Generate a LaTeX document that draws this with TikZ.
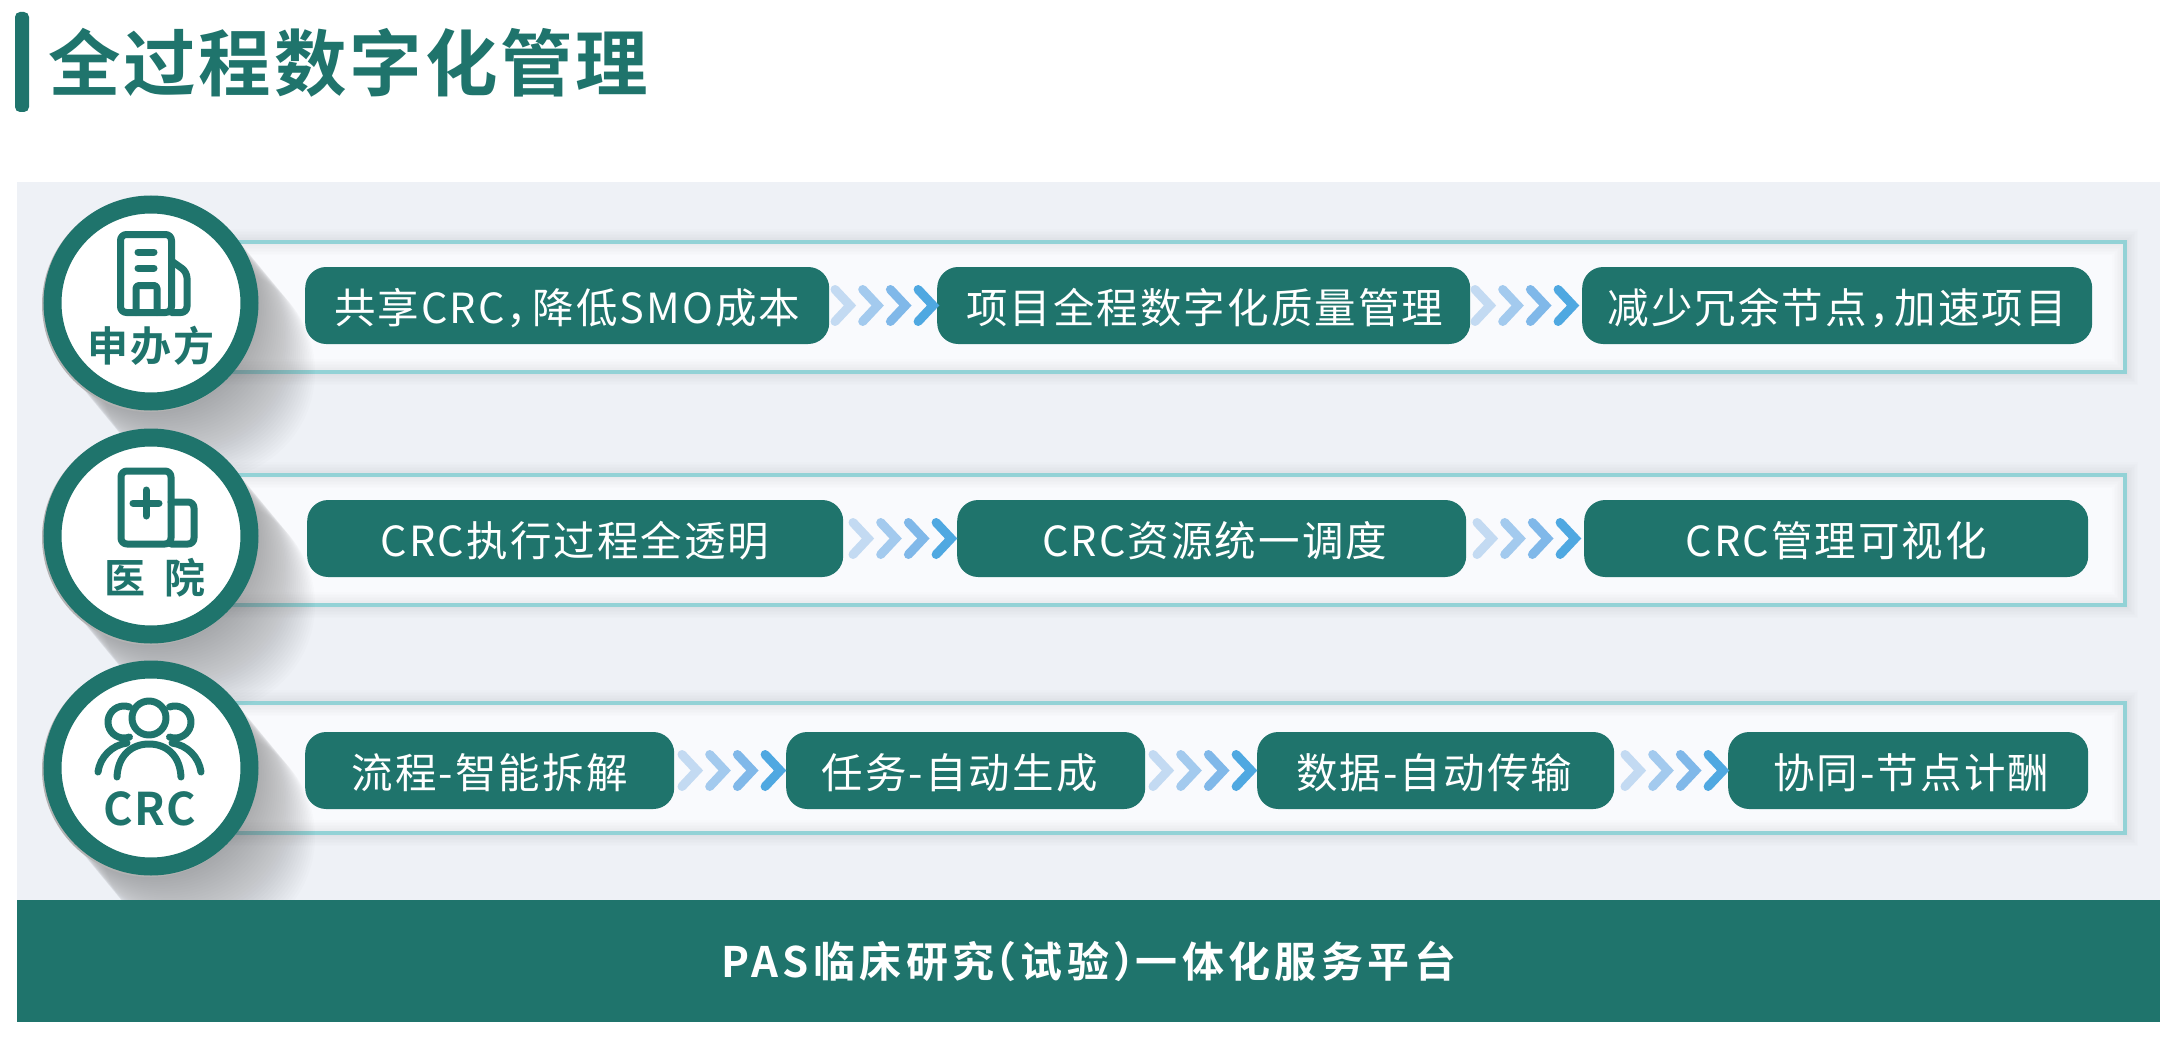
\documentclass[tikz,border=0pt]{standalone}
\usepackage{fontspec}
\setmainfont{Noto Sans CJK SC}
\newfontfamily\pillfont[LetterSpace=5]{Noto Sans CJK SC}
\newfontfamily\boldfont[LetterSpace=6]{Noto Sans CJK SC Bold}
\newfontfamily\barfont[LetterSpace=10.5]{Noto Sans CJK SC Bold}
\newfontfamily\titlefont[LetterSpace=4]{Noto Sans CJK SC Bold}
\newfontfamily\crcfont[LetterSpace=3]{Noto Sans CJK SC Bold}
\definecolor{teal1}{HTML}{1F746C}
\definecolor{bgc}{HTML}{EEF1F6}
\definecolor{frameC}{HTML}{93D2D6}
\definecolor{innerC}{HTML}{F9FAFD}
\definecolor{ch1}{HTML}{C3DAF2}
\definecolor{ch2}{HTML}{A3CAEE}
\definecolor{ch3}{HTML}{80B8E9}
\definecolor{ch4}{HTML}{4FA8E1}
\tikzset{
  pill/.style={fill=teal1,rounded corners=21pt,minimum height=77pt,inner sep=0pt,anchor=west,text=white,font=\pillfont\fontsize{41.5}{48}\selectfont},
  ringc/.style={circle,draw=teal1,fill=white,line width=18pt,minimum size=197pt,inner sep=0pt},
  icon/.style={draw=teal1,line width=7pt,line cap=round,line join=round,rounded corners=6pt},
  iconb/.style={draw=teal1,line width=7pt,line cap=round,line join=round},
  clabel/.style={text=teal1,inner sep=0pt,font=\boldfont\fontsize{41}{48}\selectfont},
  chev/.style={line width=9pt,line cap=round,line join=miter},
}
\newcommand{\rowframe}[2]{%
  \fill[innerC] (150,#1) rectangle (2125,#2);
  \foreach \w in {5,8,11,14,17,20,23,26}
    \draw[black,opacity=0.008,line width=\w pt] (150,#1) rectangle (2125,#2);
  \draw[frameC,line width=4pt] (150,#1) rectangle (2125,#2);
}
\newcommand{\longshadow}[2]{%
  \foreach \i in {1,...,30}
    \fill[black!70,opacity=0.016] ({#1+1.9*\i},{#2+2.3*\i}) circle[radius=107];
  \fill[black!30] (#1-1.5,#2+1.5) circle[radius=107.5];
}
\newcommand{\dn}[2][0pt]{\kern#1\raisebox{-17.5pt}[0pt][0pt]{#2}}
% four chevrons that end at the west side of the pill they lead to
\newcommand{\chevs}[2][-2]{%
  \begin{scope}[shift={(#2.west)},xshift=#1pt]
    \draw[chev,ch1] (-102,-16) -- (-87,0) -- (-102,16);
    \draw[chev,ch2] (-74.3,-16) -- (-59.3,0) -- (-74.3,16);
    \draw[chev,ch3] (-46.6,-16) -- (-31.6,0) -- (-46.6,16);
    \draw[chev,ch4] (-18.9,-16) -- (-3.9,0) -- (-18.9,16);
  \end{scope}
}
\begin{document}
\begin{tikzpicture}[x=1pt,y=-1pt]
\useasboundingbox (0,0) rectangle (2171,1038);
\fill[white] (0,0) rectangle (2171,1038);
% title
\fill[teal1,rounded corners=5pt] (15,12) rectangle (29,112);
\node[anchor=west,inner sep=0pt,text=teal1,font=\titlefont\fontsize{72.5}{80}\selectfont] (title) at (48,63) {全过程数字化管理};
% panel
\fill[bgc] (17,182) rectangle (2160,905);
\rowframe{242}{372}
\rowframe{475}{605}
\rowframe{703}{833}
% circles with long shadows
\longshadow{151}{303}
\node[ringc] (c1) at (151,303) {};
\longshadow{151}{536}
\node[ringc] (c2) at (151,536) {};
\longshadow{151}{768}
\node[ringc] (c3) at (151,768) {};
% bottom bar
\node[fill=teal1,minimum width=2143pt,minimum height=122pt,inner sep=0pt,anchor=north west,text=white,font=\barfont\fontsize{42}{46}\selectfont] (bar) at (17,900) {PAS临床研究\kern-20pt （试验）\kern-20pt 一体化服务平台};
% icon: building
\draw[icon] (138,312.5) -- (120.5,312.5) -- (120.5,234.5) -- (171.5,234.5) -- (171.5,312.5) -- cycle;
\draw[icon] (171.5,312.5) -- (187,312.5) -- (187,272) -- (171.5,261);
\draw[iconb] (138,252) -- (154,252) (138,268) -- (154,268);
\draw[icon,rounded corners=3pt] (136,312.5) -- (136,285.5) -- (157,285.5) -- (157,312.5);
% icon: hospital
\draw[icon] (121,471) rectangle (171,544);
\draw[icon] (171,502) -- (194,502) -- (194,544) -- (171,544);
\draw[iconb] (133,503) -- (159,503) (146,490) -- (146,516);
% icon: people
\draw[iconb] (149,718) circle[radius=17];
\draw[iconb] (124,722) ++(-70:16) arc[start angle=-70,end angle=-290,radius=16];
\draw[iconb] (175,722) ++(-110:16) arc[start angle=-110,end angle=110,radius=16];
\draw[iconb] (117,777) .. controls (118,755) and (132,744) .. (149,744) .. controls (166,744) and (180,755) .. (181,777);
\draw[iconb] (98,772) .. controls (100,757) and (112,745) .. (127,743);
\draw[iconb] (201,772) .. controls (199,757) and (187,745) .. (172,743);
% circle labels
\node[clabel] (l1) at (151,346) {申办方};
\node[clabel] (l2a) at (125,578) {医};
\node[clabel] (l2b) at (185,578) {院};
\node[clabel,font=\crcfont\fontsize{45}{52}\selectfont] (l3) at (150,809) {CRC};
% row 1
\node[pill,minimum width=524pt] (a1) at (305,305.5) {\dn{共享CRC，\kern-16pt 降低SMO成本}};
\node[pill,minimum width=533pt] (a2) at (937,305.5) {\dn[2pt]{项目全程数字化质量管理}};
\node[pill,minimum width=510pt] (a3) at (1582,305.5) {\dn{减少冗余节点，\kern-16pt 加速项目}};
\chevs[0]{a2}
\chevs[-5]{a3}
% row 2
\node[pill,minimum width=536pt] (b1) at (307,538.5) {\dn{CRC执行过程全透明}};
\node[pill,minimum width=509pt] (b2) at (957,538.5) {\dn[6pt]{CRC资源统一调度}};
\node[pill,minimum width=504pt] (b3) at (1584,538.5) {\dn{CRC管理可视化}};
\chevs{b2}
\chevs[-5]{b3}
% row 3
\node[pill,minimum width=369pt] (d1) at (305,770.5) {\dn{流程-智能拆解}};
\node[pill,minimum width=359pt] (d2) at (786,770.5) {\dn[-12pt]{任务-自动生成}};
\node[pill,minimum width=357pt] (d3) at (1257,770.5) {\dn[-3pt]{数据-自动传输}};
\node[pill,minimum width=360pt] (d4) at (1728,770.5) {\dn[6pt]{协同-节点计酬}};
\chevs{d2}
\chevs{d3}
\chevs[-1]{d4}
\end{tikzpicture}
\end{document}
